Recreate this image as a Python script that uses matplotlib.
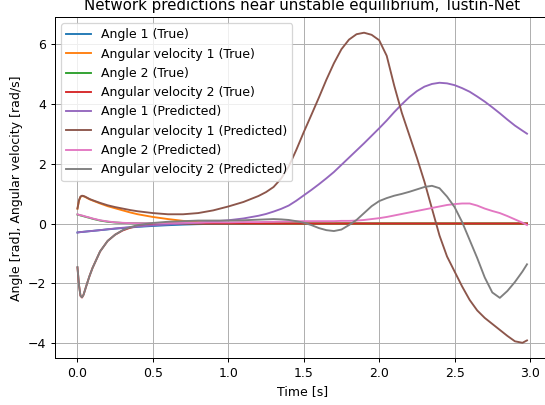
import matplotlib
matplotlib.use('Agg')
import matplotlib.pyplot as plt

# Time grid for the true trajectories (they settle to zero early)
t_true = [0.0, 0.01, 0.02, 0.03, 0.04, 0.05, 0.065, 0.08, 0.1, 0.15, 0.2, 0.25, 0.3, 0.35, 0.4,
          0.5, 0.6, 0.7, 0.8, 0.9, 1.0, 1.5, 2.0, 2.5, 2.98]

angle1_true = [-0.30, -0.29, -0.285, -0.28, -0.275, -0.27, -0.262, -0.255, -0.245, -0.22, -0.195, -0.17, -0.15,
               -0.13, -0.11, -0.08, -0.055, -0.035, -0.02, -0.01, -0.005, 0.0, 0.0, 0.0, 0.0]
angvel1_true = [0.5, 0.76, 0.89, 0.92, 0.91, 0.89, 0.85, 0.81, 0.77, 0.67, 0.58, 0.51, 0.44,
                0.37, 0.31, 0.22, 0.15, 0.09, 0.05, 0.03, 0.02, 0.0, 0.0, 0.0, 0.0]
angle2_true = [0.30, 0.29, 0.27, 0.26, 0.245, 0.23, 0.21, 0.19, 0.16, 0.1, 0.06, 0.035, 0.02,
               0.012, 0.008, 0.004, 0.0, 0.0, 0.0, 0.0, 0.0, 0.0, 0.0, 0.0, 0.0]
angvel2_true = [-1.47, -2.05, -2.41, -2.47, -2.38, -2.22, -1.98, -1.75, -1.48, -0.93, -0.58, -0.37, -0.23,
                -0.14, -0.08, -0.03, -0.01, 0.0, 0.0, 0.0, 0.0, 0.0, 0.0, 0.0, 0.0]

# Time grid for the network predictions
t_pred = [0.0, 0.01, 0.02, 0.03, 0.04, 0.05, 0.065, 0.08, 0.1, 0.15, 0.2, 0.25, 0.3, 0.35, 0.4,
          0.5, 0.6, 0.7, 0.8, 0.9, 1.0, 1.1, 1.2, 1.25, 1.3, 1.35, 1.4, 1.45, 1.5, 1.55, 1.6, 1.65,
          1.7, 1.75, 1.8, 1.85, 1.9, 1.95, 2.0, 2.05, 2.1, 2.15, 2.2, 2.25, 2.3,
          2.35, 2.4, 2.45, 2.5, 2.55, 2.6, 2.65, 2.7, 2.75, 2.8, 2.85, 2.9, 2.95, 2.98]

angle1_pred = [-0.30, -0.29, -0.285, -0.28, -0.275, -0.27, -0.262, -0.255, -0.245, -0.22, -0.19, -0.165, -0.14,
               -0.12, -0.10, -0.06, -0.03, 0.0, 0.03, 0.07, 0.11, 0.17, 0.26, 0.32, 0.4, 0.49, 0.6, 0.76,
               0.94, 1.12, 1.31, 1.51,
               1.72, 1.96, 2.2, 2.44, 2.68, 2.93, 3.18, 3.44, 3.72, 3.98, 4.22, 4.42, 4.57,
               4.66, 4.70, 4.68, 4.62, 4.52, 4.4, 4.24, 4.07, 3.88, 3.68, 3.47, 3.27, 3.1, 3.0]
angvel1_pred = [0.5, 0.78, 0.9, 0.93, 0.92, 0.9, 0.86, 0.82, 0.78, 0.69, 0.61, 0.55, 0.5,
                0.45, 0.41, 0.35, 0.31, 0.31, 0.35, 0.44, 0.57, 0.72, 0.92, 1.05, 1.22, 1.5, 1.9, 2.45,
                3.05, 3.62, 4.2, 4.8,
                5.35, 5.82, 6.14, 6.32, 6.37, 6.3, 6.12, 5.6, 4.6, 3.7, 2.95, 2.2, 1.4,
                0.5, -0.4, -1.1, -1.6, -2.1, -2.55, -2.9, -3.15, -3.35, -3.55, -3.75, -3.93, -3.98, -3.9]
angle2_pred = [0.31, 0.29, 0.28, 0.27, 0.255, 0.24, 0.22, 0.2, 0.17, 0.11, 0.07, 0.04, 0.025,
               0.015, 0.01, 0.01, 0.02, 0.03, 0.03, 0.04, 0.04, 0.05, 0.05, 0.055, 0.06, 0.065, 0.07, 0.075,
               0.08, 0.08, 0.08, 0.08,
               0.08, 0.09, 0.09, 0.1, 0.12, 0.15, 0.18, 0.22, 0.27, 0.32, 0.37, 0.42, 0.47,
               0.52, 0.57, 0.62, 0.65, 0.67, 0.67, 0.6, 0.5, 0.42, 0.35, 0.25, 0.14, 0.03, -0.05]
angvel2_pred = [-1.45, -2.05, -2.41, -2.46, -2.38, -2.22, -1.98, -1.75, -1.48, -0.93, -0.58, -0.37, -0.22,
                -0.12, -0.05, 0.02, 0.06, 0.08, 0.1, 0.1, 0.1, 0.11, 0.13, 0.14, 0.15, 0.14, 0.12, 0.08,
                0.03, -0.05, -0.15, -0.22,
                -0.25, -0.2, -0.05, 0.12, 0.35, 0.58, 0.75, 0.85, 0.93, 0.99, 1.06, 1.14, 1.22,
                1.26, 1.18, 0.9, 0.55, 0.05, -0.55, -1.15, -1.8, -2.3, -2.48, -2.25, -1.95, -1.6, -1.36]


def main():
    # Figura renderizada a 90 dpi
    fig = plt.figure(figsize=(545 / 90, 405 / 90), dpi=90)
    ax = fig.add_axes([0.1009, 0.1153, 0.9073, 0.8422])

    ax.plot(t_true, angle1_true, label='Angle 1 (True)')
    ax.plot(t_true, angvel1_true, label='Angular velocity 1 (True)')
    ax.plot(t_true, angle2_true, label='Angle 2 (True)')
    ax.plot(t_true, angvel2_true, label='Angular velocity 2 (True)')
    ax.plot(t_pred, angle1_pred, label='Angle 1 (Predicted)')
    ax.plot(t_pred, angvel1_pred, label='Angular velocity 1 (Predicted)')
    ax.plot(t_pred, angle2_pred, label='Angle 2 (Predicted)')
    ax.plot(t_pred, angvel2_pred, label='Angular velocity 2 (Predicted)')

    ax.set_title('Network predictions near unstable equilibrium, Tustin-Net')
    ax.set_xlabel('Time [s]')
    ax.set_ylabel('Angle [rad], Angular velocity [rad/s]')
    ax.grid(True)
    ax.legend(loc='upper left')

    fig.savefig('out.png', dpi=90)


if __name__ == '__main__':
    main()
